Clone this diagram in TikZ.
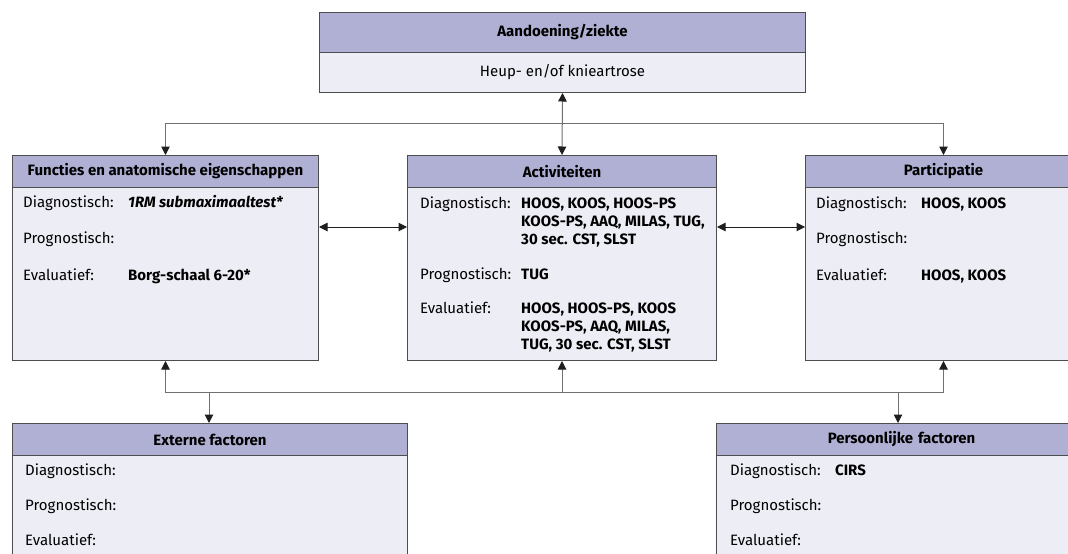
\documentclass[tikz,border=0pt]{standalone}
\usepackage{fontspec}
\setmainfont{Fira Sans}
\usetikzlibrary{arrows.meta}
\definecolor{hdr}{HTML}{B0B0D4}
\definecolor{bdy}{HTML}{EDEDF5}
\definecolor{brd}{HTML}{4D4D4D}
\definecolor{lnk}{HTML}{707070}
\definecolor{tip}{HTML}{1E1E1E}
\begin{document}
\begin{tikzpicture}[x=1pt,y=-1pt,
  hdrbox/.style={draw=brd, line width=1pt, fill=hdr, inner sep=0pt, anchor=north west,
    font=\bfseries\fontsize{15}{18}\selectfont},
  bdybox/.style={draw=brd, line width=1pt, fill=bdy, inner sep=0pt, anchor=north west},
  lbl/.style={anchor=base west, inner sep=0pt, font=\fontsize{15}{18}\selectfont},
  val/.style={anchor=base west, inner sep=0pt, font=\bfseries\fontsize{15}{18}\selectfont},
  link/.style={draw=lnk, line width=1pt},
  tri/.tip={Triangle[length=8.5pt,width=8.5pt,color=tip]}
]
\useasboundingbox (0,0) rectangle (1068,554);
\clip (0,0) rectangle (1068,554);
\fill[white] (0,0) rectangle (1068,554);

% top box
\node[hdrbox, minimum width=486pt, minimum height=40pt] (topH) at (319,12) {Aandoening/ziekte};
\node[bdybox, minimum width=486pt, minimum height=40pt, font=\fontsize{15}{18}\selectfont] (topB) at (319,52) {Heup- en/of knieartrose};

% functions box
\node[bdybox, minimum width=306pt, minimum height=173pt] (funcB) at (12,187) {};
\node[hdrbox, minimum width=306pt, minimum height=32pt] (funcH) at (12,155) {Functies en anatomische eigenschappen};
\node[lbl] (f1) at (23,207) {Diagnostisch:};
\node[val] (f1v) at (128,207) {\textit{1RM submaximaaltest*}};
\node[lbl] (f2) at (23,243) {Prognostisch:};
\node[lbl] (f3) at (23,280) {Evaluatief:};
\node[val] (f3v) at (128,280) {Borg-schaal 6-20*};

% activities box
\node[bdybox, minimum width=309pt, minimum height=173pt] (actB) at (407,187) {};
\node[hdrbox, minimum width=309pt, minimum height=32pt] (actH) at (407,155) {Activiteiten};
\node[lbl] (a1) at (420,208) {Diagnostisch:};
\node[val] (a1v) at (521,208) {HOOS, KOOS, HOOS-PS};
\node[val] (a1w) at (521,226) {KOOS-PS, AAQ, MILAS, TUG,};
\node[val] (a1x) at (521,244) {30 sec. CST, SLST};
\node[lbl] (a2) at (420,279) {Prognostisch:};
\node[val] (a2v) at (521,279) {TUG};
\node[lbl] (a3) at (420,313) {Evaluatief:};
\node[val] (a3v) at (521,313) {HOOS, HOOS-PS, KOOS};
\node[val] (a3w) at (521,331) {KOOS-PS, AAQ, MILAS,};
\node[val] (a3x) at (521,349) {TUG, 30 sec. CST, SLST};

% participation box
\node[bdybox, minimum width=276pt, minimum height=173pt] (partB) at (805,187) {};
\node[hdrbox, minimum width=276pt, minimum height=32pt] (partH) at (805,155) {Participatie};
\node[lbl] (p1) at (816,208) {Diagnostisch:};
\node[val] (p1v) at (921,208) {HOOS, KOOS};
\node[lbl] (p2) at (816,243) {Prognostisch:};
\node[lbl] (p3) at (816,280) {Evaluatief:};
\node[val] (p3v) at (921,280) {HOOS, KOOS};

% external factors
\node[bdybox, minimum width=395pt, minimum height=150pt] (extB) at (12,455) {};
\node[hdrbox, minimum width=395pt, minimum height=32pt] (extH) at (12,423) {Externe factoren};
\node[lbl] (e1) at (25,475) {Diagnostisch:};
\node[lbl] (e2) at (25,510) {Prognostisch:};
\node[lbl] (e3) at (25,545) {Evaluatief:};

% personal factors
\node[bdybox, minimum width=370pt, minimum height=150pt] (perB) at (716,455) {};
\node[hdrbox, minimum width=370pt, minimum height=32pt, text width=340pt, align=center] (perH) at (716,423) {Persoonlijke factoren};
\node[lbl] (q1) at (730,475) {Diagnostisch:};
\node[val] (q1v) at (835,475) {CIRS};
\node[lbl] (q2) at (730,510) {Prognostisch:};
\node[lbl] (q3) at (730,545) {Evaluatief:};

% connectors
\coordinate (jt) at (562,123);
\coordinate (jb) at (562,392);
\coordinate (midrow) at (0,227);
\coordinate (extIn) at (209,423);
\coordinate (perIn) at (898,423);

\draw[link, tri-tri] (topB.south) -- (actH.north);
\draw[link, -tri] (jt) -| (funcH.north);
\draw[link, -tri] (jt) -| (partH.north);

\draw[link, draw=tip, tri-tri] (funcB.east |- midrow) -- (actB.west |- midrow);
\draw[link, draw=tip, tri-tri] (actB.east |- midrow) -- (partB.west |- midrow);

\draw[link, -tri] (jb) -- (actB.south);
\draw[link, -tri] (jb) -| (funcB.south);
\draw[link, -tri] (jb) -| (partB.south);
\draw[link, -tri] (extIn |- jb) -- (extIn);
\draw[link, -tri] (perIn |- jb) -- (perIn);
\end{tikzpicture}
\end{document}
